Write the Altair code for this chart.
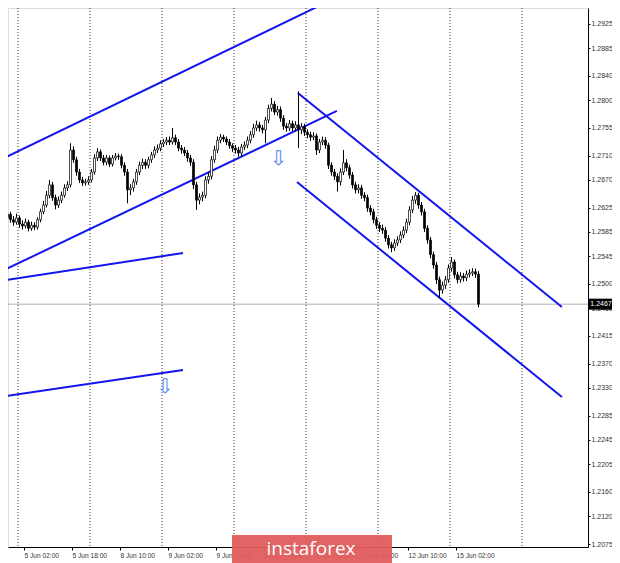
import altair as alt
import pandas as pd

# ---------------- data ----------------
# H1 bars, index 0 = 5 Jun 00:00
first_bar = -6
first_open = 1.2611
closes = [
    1.2618, 1.2608, 1.2614, 1.2605, 1.2601, 1.2608,
    1.2598, 1.2595, 1.2601, 1.2591, 1.2596, 1.2593, 1.2605, 1.2618, 1.2629, 1.2645,
    1.2662, 1.2641, 1.2629, 1.2637, 1.2645, 1.2657, 1.2662, 1.2719, 1.2703, 1.2683,
    1.2670, 1.2665, 1.2667, 1.2670, 1.2683, 1.2706, 1.2716, 1.2706, 1.2699, 1.2706,
    1.2696, 1.2706, 1.2709, 1.2708, 1.2694, 1.2683, 1.2654, 1.2657, 1.2667, 1.2683,
    1.2694, 1.2699, 1.2694, 1.2703, 1.2711, 1.2719, 1.2722, 1.2729, 1.2732, 1.2735,
    1.2732, 1.2739, 1.2732, 1.2722, 1.2719, 1.2714, 1.2706, 1.2699, 1.2662, 1.2637,
    1.2642, 1.2645, 1.2670, 1.2676, 1.2703, 1.2719, 1.2735, 1.2740, 1.2737, 1.2732,
    1.2726, 1.2722, 1.2719, 1.2714, 1.2724, 1.2727, 1.2735, 1.2744, 1.2755, 1.2760,
    1.2755, 1.2752, 1.2768, 1.2787, 1.2794, 1.2781, 1.2785, 1.2771, 1.2758, 1.2755,
    1.2762, 1.2755, 1.2760, 1.2752, 1.2757, 1.2748, 1.2744, 1.2740, 1.2742, 1.2719,
    1.2732, 1.2735, 1.2727, 1.2694, 1.2683, 1.2676, 1.2667, 1.2683, 1.2698, 1.2690,
    1.2678, 1.2662, 1.2654, 1.2657, 1.2645, 1.2641, 1.2624, 1.2618, 1.2605, 1.2596,
    1.2591, 1.2588, 1.2575, 1.2564, 1.2559, 1.2567, 1.2572, 1.2580, 1.2588, 1.2601,
    1.2621, 1.2637, 1.2645, 1.2629, 1.2618, 1.2591, 1.2572, 1.2548, 1.2531, 1.2507,
    1.2490, 1.2498, 1.2507, 1.2526, 1.2536, 1.2515, 1.2507, 1.2513, 1.2510, 1.2516,
    1.2518, 1.2520, 1.2516, 1.2467,
]
highs = [
    1.2624, 1.2623, 1.2620, 1.2618, 1.2611, 1.2615,
    1.2612, 1.2604, 1.2607, 1.2605, 1.2602, 1.2601, 1.2609, 1.2623, 1.2636, 1.2652,
    1.2670, 1.2667, 1.2646, 1.2643, 1.2651, 1.2663, 1.2668, 1.2730, 1.2725, 1.2708,
    1.2688, 1.2675, 1.2672, 1.2676, 1.2688, 1.2712, 1.2722, 1.2720, 1.2711, 1.2711,
    1.2710, 1.2711, 1.2714, 1.2713, 1.2712, 1.2699, 1.2688, 1.2663, 1.2672, 1.2688,
    1.2700, 1.2705, 1.2704, 1.2708, 1.2716, 1.2725, 1.2728, 1.2735, 1.2737, 1.2740,
    1.2741, 1.2755, 1.2744, 1.2737, 1.2727, 1.2724, 1.2719, 1.2711, 1.2704, 1.2667,
    1.2648, 1.2651, 1.2676, 1.2683, 1.2709, 1.2726, 1.2741, 1.2745, 1.2744, 1.2741,
    1.2737, 1.2730, 1.2727, 1.2724, 1.2729, 1.2733, 1.2741, 1.2750, 1.2762, 1.2767,
    1.2765, 1.2760, 1.2773, 1.2793, 1.2804, 1.2799, 1.2791, 1.2790, 1.2776, 1.2763,
    1.2768, 1.2767, 1.2766, 1.2815, 1.2763, 1.2762, 1.2753, 1.2749, 1.2748, 1.2746,
    1.2737, 1.2741, 1.2740, 1.2731, 1.2699, 1.2688, 1.2681, 1.2689, 1.2719, 1.2704,
    1.2695, 1.2683, 1.2667, 1.2663, 1.2662, 1.2650, 1.2646, 1.2629, 1.2623, 1.2610,
    1.2601, 1.2597, 1.2593, 1.2580, 1.2569, 1.2573, 1.2578, 1.2586, 1.2594, 1.2607,
    1.2627, 1.2644, 1.2650, 1.2649, 1.2634, 1.2623, 1.2596, 1.2577, 1.2553, 1.2536,
    1.2512, 1.2504, 1.2513, 1.2532, 1.2544, 1.2540, 1.2520, 1.2519, 1.2518, 1.2522,
    1.2524, 1.2526, 1.2525, 1.2521,
]
lows = [
    1.2605, 1.2603, 1.2602, 1.2600, 1.2595, 1.2597,
    1.2592, 1.2589, 1.2591, 1.2586, 1.2587, 1.2588, 1.2589, 1.2601, 1.2614, 1.2625,
    1.2640, 1.2636, 1.2622, 1.2624, 1.2632, 1.2641, 1.2652, 1.2658, 1.2698, 1.2677,
    1.2665, 1.2660, 1.2661, 1.2662, 1.2666, 1.2679, 1.2701, 1.2701, 1.2694, 1.2694,
    1.2691, 1.2692, 1.2702, 1.2703, 1.2689, 1.2677, 1.2632, 1.2645, 1.2651, 1.2662,
    1.2678, 1.2688, 1.2688, 1.2689, 1.2698, 1.2706, 1.2714, 1.2717, 1.2724, 1.2727,
    1.2727, 1.2728, 1.2727, 1.2717, 1.2713, 1.2709, 1.2700, 1.2693, 1.2655, 1.2621,
    1.2630, 1.2635, 1.2640, 1.2664, 1.2671, 1.2698, 1.2714, 1.2730, 1.2732, 1.2727,
    1.2721, 1.2716, 1.2713, 1.2708, 1.2709, 1.2719, 1.2722, 1.2730, 1.2739, 1.2750,
    1.2749, 1.2746, 1.2730, 1.2763, 1.2782, 1.2776, 1.2775, 1.2765, 1.2752, 1.2749,
    1.2750, 1.2750, 1.2749, 1.2722, 1.2745, 1.2742, 1.2738, 1.2734, 1.2735, 1.2711,
    1.2714, 1.2727, 1.2721, 1.2688, 1.2677, 1.2670, 1.2651, 1.2661, 1.2678, 1.2684,
    1.2672, 1.2656, 1.2648, 1.2648, 1.2639, 1.2635, 1.2618, 1.2612, 1.2599, 1.2590,
    1.2585, 1.2582, 1.2569, 1.2558, 1.2552, 1.2554, 1.2562, 1.2567, 1.2575, 1.2583,
    1.2596, 1.2616, 1.2631, 1.2623, 1.2612, 1.2585, 1.2566, 1.2542, 1.2525, 1.2500,
    1.2477, 1.2484, 1.2492, 1.2502, 1.2520, 1.2509, 1.2501, 1.2502, 1.2504, 1.2505,
    1.2511, 1.2513, 1.2510, 1.2462,
]
opens = [first_open] + closes[:-1]
bar_index = list(range(first_bar, first_bar + len(closes)))

# axis
y_ticks = [1.2925, 1.2885, 1.2840, 1.2800, 1.2755, 1.2710, 1.2670, 1.2625, 1.2585,
           1.2545, 1.2500, 1.2460, 1.2415, 1.2370, 1.2330, 1.2285, 1.2245, 1.2205,
           1.2160, 1.2120, 1.2075]
x_tick_pos = [1.5, 17.5, 33.5, 49.5, 65.5, 81.5, 97.5, 113.5, 129.5, 145.5]
x_tick_labels = ["5 Jun 02:00", "5 Jun 18:00", "8 Jun 10:00", "9 Jun 02:00",
                 "9 Jun 18:00", "10 Jun 10:00", "11 Jun 02:00", "11 Jun 18:00",
                 "12 Jun 10:00", "15 Jun 02:00"]
day_separators = [-0.5, 23.5, 47.5, 71.5, 95.5, 119.5, 143.5, 167.5]
last_price = 1.2467

# trend lines (bar index, price)
line_ids = ["up1", "up1", "up2", "up2", "s1", "s1", "s2", "s2",
            "dn1", "dn1", "dn2", "dn2"]
line_x = [-6.5, 103.5, -6.5, 105.8, -6.5, 54.5, -6.5, 54.5,
          92.8, 180.8, 92.5, 180.8]
line_y = [1.27027, 1.29632, 1.25196, 1.27828, 1.25049, 1.25506, 1.23153, 1.23594,
          1.28122, 1.24624, 1.26667, 1.23153]

arrow_x = [86.3, 48.5]
arrow_y = [1.27035, 1.23316]

# ---------------- chart ----------------
W, H = 580, 539
x_dom = [-3.8333, 189.5]
y_dom = [1.20701, 1.29511]

candles = pd.DataFrame({"i": bar_index, "open": opens, "close": closes,
                        "high": highs, "low": lows})
candles["bull"] = candles["close"] > candles["open"]

xs = alt.Scale(domain=x_dom, nice=False, zero=False, padding=0)
ys = alt.Scale(domain=y_dom, nice=False, zero=False, padding=0)

label_arr = "[" + ",".join("'" + s + "'" for s in x_tick_labels) + "]"
x_axis = alt.Axis(values=x_tick_pos, orient="bottom", title=None, grid=False,
                  labelExpr=label_arr + "[round((datum.value - 1.5) / 16)]",
                  labelAlign="left", labelFontSize=6.6, labelFont="Liberation Sans",
                  labelColor="#333", labelPadding=2, tickSize=3, tickColor="#000",
                  domainColor="#000", labelOverlap=False, labelFlush=False)
y_axis = alt.Axis(values=y_ticks, orient="right", title=None, grid=False,
                  format=".4f", labelFontSize=7, labelFont="Liberation Sans",
                  labelColor="#333", labelPadding=1, tickSize=2, tickColor="#000",
                  domainColor="#000", labelOverlap=False, labelFlush=False)

base = alt.Chart(candles)

seps = alt.Chart(pd.DataFrame({"i": day_separators})).mark_rule(
    color="#333", strokeWidth=1, strokeDash=[1, 2]
).encode(x=alt.X("i:Q", scale=xs, axis=x_axis))

price_line = alt.Chart(pd.DataFrame({"p": [last_price]})).mark_rule(
    color="#b0b0b0", strokeWidth=1
).encode(y=alt.Y("p:Q", scale=ys, axis=y_axis))

wicks = base.mark_rule(color="#000", strokeWidth=1, clip=True).encode(
    x=alt.X("i:Q", scale=xs, axis=x_axis),
    y=alt.Y("low:Q", scale=ys, axis=y_axis),
    y2="high:Q",
)
bodies = base.mark_bar(size=2, stroke="#000", strokeWidth=0.7, clip=True).encode(
    x=alt.X("i:Q", scale=xs, axis=x_axis),
    y=alt.Y("open:Q", scale=ys, axis=y_axis),
    y2="close:Q",
    fill=alt.condition("datum.bull", alt.value("#ffffff"), alt.value("#000000")),
)

trend = alt.Chart(pd.DataFrame({"id": line_ids, "x": line_x, "y": line_y})).mark_line(
    color="#1414f0", strokeWidth=2, clip=True
).encode(
    x=alt.X("x:Q", scale=xs, axis=x_axis),
    y=alt.Y("y:Q", scale=ys, axis=y_axis),
    detail="id:N",
)

arrows = alt.Chart(pd.DataFrame({"x": arrow_x, "y": arrow_y})).mark_text(
    text="⇩", fontSize=20, color="#4f86f0", font="DejaVu Sans", baseline="middle"
).encode(
    x=alt.X("x:Q", scale=xs, axis=x_axis),
    y=alt.Y("y:Q", scale=ys, axis=y_axis),
)

box_path = "M-1,-0.46L1,-0.46L1,0.46L-1,0.46Z"
price_box = alt.Chart(pd.DataFrame({"p": [last_price]})).mark_point(
    shape=box_path, size=576, filled=True, color="#000", opacity=1
).encode(x=alt.value(W + 13), y=alt.Y("p:Q", scale=ys, axis=y_axis))
price_txt = alt.Chart(pd.DataFrame({"p": [last_price]})).mark_text(
    color="#fff", fontSize=7, font="Liberation Sans", baseline="middle"
).encode(x=alt.value(W + 13), y=alt.Y("p:Q", scale=ys, axis=y_axis),
         text=alt.Text("p:Q", format=".4f"))

logo_rect = alt.Chart(pd.DataFrame({"a": [0]})).mark_rect(
    color="#e25c5c", opacity=0.95
).encode(x=alt.value(224), x2=alt.value(384), y=alt.value(527), y2=alt.value(560))
logo_txt = alt.Chart(pd.DataFrame({"t": ["instaforex"]})).mark_text(
    color="#ffffff", fontSize=19, font="Open Sans", baseline="middle", align="center"
).encode(x=alt.value(303), y=alt.value(541), text="t:N")

chart = alt.layer(
    seps, price_line, trend, wicks, bodies, arrows, price_box, price_txt,
    logo_rect, logo_txt
).properties(
    width=W, height=H,
    autosize=alt.AutoSizeParams(type="none"),
    padding={"left": 0, "top": 0, "right": 24, "bottom": 16},
).configure_view(stroke="#000", strokeWidth=1).configure(background="#ffffff")

chart.save("out.html", embed_options={"renderer": "svg", "actions": False})
